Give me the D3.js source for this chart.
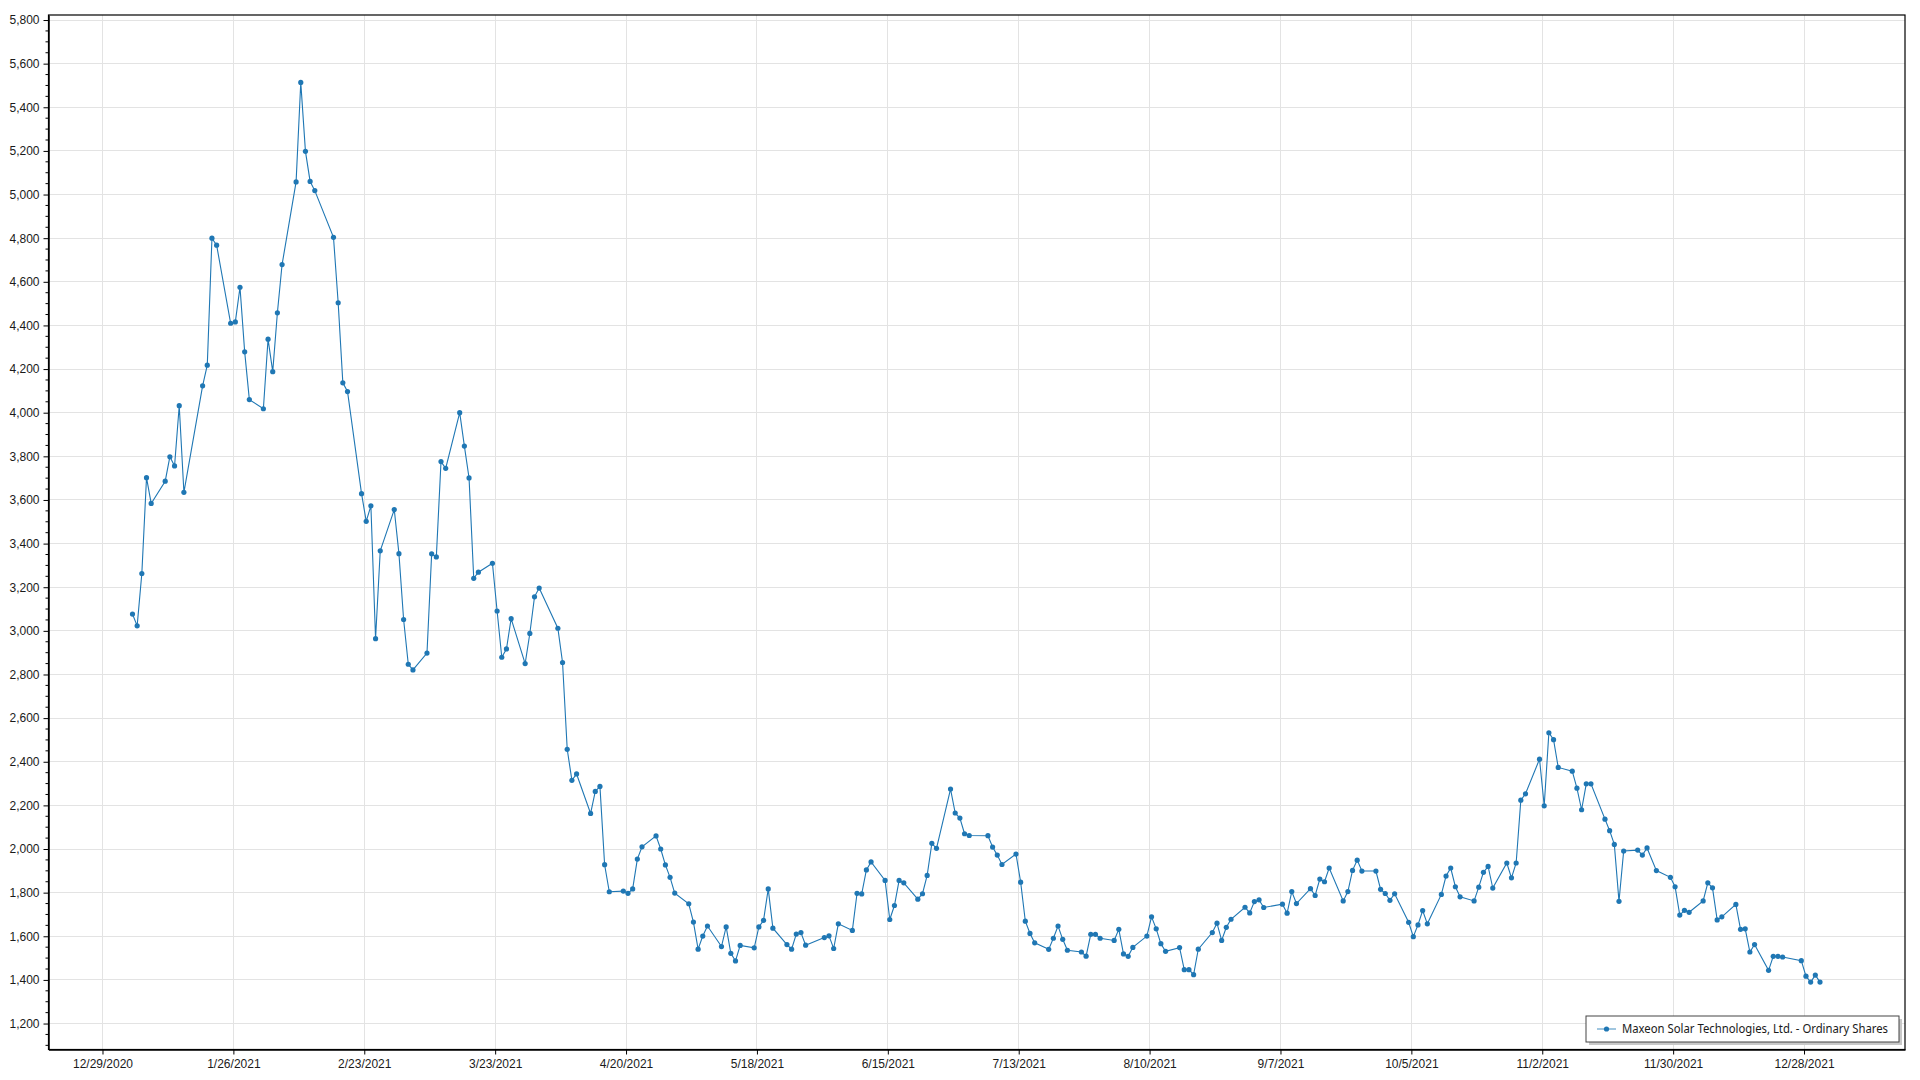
<!DOCTYPE html>
<html>
<head>
<meta charset="utf-8">
<script src="https://cdn.jsdelivr.net/npm/d3@7"></script>
<style>
  html, body { margin: 0; padding: 0; background: #fff; }
  svg { display: block; font-family: "Noto Sans", "Open Sans", sans-serif; }
</style>
</head>
<body>
<svg id="chart" width="1920" height="1080"></svg>
<script>
// ---- data ----
const seriesName = "Maxeon Solar Technologies, Ltd. - Ordinary Shares";
const dates = [
  "2021-01-04","2021-01-05","2021-01-06","2021-01-07","2021-01-08","2021-01-11","2021-01-12","2021-01-13","2021-01-14","2021-01-15",
  "2021-01-19","2021-01-20","2021-01-21","2021-01-22","2021-01-25","2021-01-26","2021-01-27","2021-01-28","2021-01-29",
  "2021-02-01","2021-02-02","2021-02-03","2021-02-04","2021-02-05","2021-02-08","2021-02-09","2021-02-10","2021-02-11","2021-02-12",
  "2021-02-16","2021-02-17","2021-02-18","2021-02-19","2021-02-22","2021-02-23","2021-02-24","2021-02-25","2021-02-26",
  "2021-03-01","2021-03-02","2021-03-03","2021-03-04","2021-03-05","2021-03-08","2021-03-09","2021-03-10","2021-03-11","2021-03-12",
  "2021-03-15","2021-03-16","2021-03-17","2021-03-18","2021-03-19","2021-03-22","2021-03-23","2021-03-24","2021-03-25","2021-03-26",
  "2021-03-29","2021-03-30","2021-03-31","2021-04-01",
  "2021-04-05","2021-04-06","2021-04-07","2021-04-08","2021-04-09","2021-04-12","2021-04-13","2021-04-14","2021-04-15","2021-04-16",
  "2021-04-19","2021-04-20","2021-04-21","2021-04-22","2021-04-23","2021-04-26","2021-04-27","2021-04-28","2021-04-29","2021-04-30",
  "2021-05-03","2021-05-04","2021-05-05","2021-05-06","2021-05-07","2021-05-10","2021-05-11","2021-05-12","2021-05-13","2021-05-14",
  "2021-05-17","2021-05-18","2021-05-19","2021-05-20","2021-05-21","2021-05-24","2021-05-25","2021-05-26","2021-05-27","2021-05-28",
  "2021-06-01","2021-06-02","2021-06-03","2021-06-04","2021-06-07","2021-06-08","2021-06-09","2021-06-10","2021-06-11",
  "2021-06-14","2021-06-15","2021-06-16","2021-06-17","2021-06-18","2021-06-21","2021-06-22","2021-06-23","2021-06-24","2021-06-25",
  "2021-06-28","2021-06-29","2021-06-30","2021-07-01","2021-07-02",
  "2021-07-06","2021-07-07","2021-07-08","2021-07-09","2021-07-12","2021-07-13","2021-07-14","2021-07-15","2021-07-16",
  "2021-07-19","2021-07-20","2021-07-21","2021-07-22","2021-07-23","2021-07-26","2021-07-27","2021-07-28","2021-07-29","2021-07-30",
  "2021-08-02","2021-08-03","2021-08-04","2021-08-05","2021-08-06","2021-08-09","2021-08-10","2021-08-11","2021-08-12","2021-08-13",
  "2021-08-16","2021-08-17","2021-08-18","2021-08-19","2021-08-20","2021-08-23","2021-08-24","2021-08-25","2021-08-26","2021-08-27",
  "2021-08-30","2021-08-31","2021-09-01","2021-09-02","2021-09-03",
  "2021-09-07","2021-09-08","2021-09-09","2021-09-10","2021-09-13","2021-09-14","2021-09-15","2021-09-16","2021-09-17",
  "2021-09-20","2021-09-21","2021-09-22","2021-09-23","2021-09-24","2021-09-27","2021-09-28","2021-09-29","2021-09-30","2021-10-01",
  "2021-10-04","2021-10-05","2021-10-06","2021-10-07","2021-10-08","2021-10-11","2021-10-12","2021-10-13","2021-10-14","2021-10-15",
  "2021-10-18","2021-10-19","2021-10-20","2021-10-21","2021-10-22","2021-10-25","2021-10-26","2021-10-27","2021-10-28","2021-10-29",
  "2021-11-01","2021-11-02","2021-11-03","2021-11-04","2021-11-05","2021-11-08","2021-11-09","2021-11-10","2021-11-11","2021-11-12",
  "2021-11-15","2021-11-16","2021-11-17","2021-11-18","2021-11-19","2021-11-22","2021-11-23","2021-11-24","2021-11-26",
  "2021-11-29","2021-11-30","2021-12-01","2021-12-02","2021-12-03","2021-12-06","2021-12-07","2021-12-08","2021-12-09","2021-12-10",
  "2021-12-13","2021-12-14","2021-12-15","2021-12-16","2021-12-17","2021-12-20","2021-12-21","2021-12-22","2021-12-23",
  "2021-12-27","2021-12-28","2021-12-29","2021-12-30","2021-12-31"
];
const prices = [
  3077,3023,3263,3702,3584,3686,3798,3756,4032,3635,
  4123,4218,4800,4768,4410,4416,4575,4279,4060,
  4018,4337,4188,4458,4679,5058,5514,5198,5060,5018,
  4804,4504,4137,4097,3629,3502,3573,2964,3367,
  3556,3354,3052,2847,2821,2898,3353,3339,3776,3745,
  4000,3847,3701,3241,3269,3310,3091,2879,2917,3056,
  2850,2988,3156,3196,
  3012,2855,2457,2315,2344,2163,2264,2287,1928,1804,
  1807,1797,1817,1954,2010,2060,2000,1927,1870,1798,
  1749,1665,1541,1601,1647,1553,1643,1522,1487,1558,
  1547,1643,1673,1817,1637,1562,1541,1610,1617,1559,
  1594,1602,1544,1657,1627,1797,1794,1904,1941,
  1856,1677,1741,1856,1845,1770,1795,1879,2026,2003,
  2275,2165,2142,2070,2062,
  2061,2009,1972,1929,1977,1848,1669,1613,1570,
  1540,1591,1647,1586,1536,1528,1509,1609,1609,1591,
  1581,1632,1519,1508,1549,1601,1689,1634,1566,1531,
  1548,1447,1447,1424,1541,1617,1660,1581,1641,1678,
  1733,1707,1759,1767,1732,
  1747,1706,1805,1750,1818,1787,1862,1850,1913,
  1762,1805,1902,1949,1899,1899,1815,1796,1765,1795,
  1664,1598,1652,1718,1657,1792,1876,1913,1827,1781,
  1762,1825,1893,1920,1821,1936,1868,1936,2224,2253,
  2412,2198,2533,2501,2374,2357,2279,2180,2299,2299,
  2137,2084,2021,1760,1991,1995,1972,2005,1901,
  1870,1827,1697,1719,1710,1762,1845,1822,1675,1689,
  1746,1632,1634,1528,1562,1444,1508,1508,1505,
  1488,1417,1390,1422,1390
];
const xTickLabels = ["12/29/2020","1/26/2021","2/23/2021","3/23/2021","4/20/2021","5/18/2021","6/15/2021",
  "7/13/2021","8/10/2021","9/7/2021","10/5/2021","11/2/2021","11/30/2021","12/28/2021"];
const yTickValues = [1200,1400,1600,1800,2000,2200,2400,2600,2800,3000,3200,3400,3600,3800,4000,4200,4400,4600,4800,5000,5200,5400,5600,5800];

// ---- layout ----
const plot = { left: 48.5, right: 1905, top: 15, bottom: 1049.5 };
const color = "#1f77b4";

// data points are stamped at 10:00 (trading session) of each date
const parseISO = s => { const [y,m,d] = s.split("-").map(Number); return new Date(Date.UTC(y, m-1, d, 10)); };
const parseMDY = s => { const [m,d,y] = s.split("/").map(Number); return new Date(Date.UTC(y, m-1, d)); };
const data = dates.map((d, i) => ({ date: parseISO(d), value: prices[i] }));
const xTicks = xTickLabels.map(parseMDY);

const DAY = 86400000;
const x = d3.scaleUtc()
  .domain([new Date(xTicks[0].getTime() - 11.55 * DAY), new Date(xTicks[0].getTime() + 385.6 * DAY)])
  .range([plot.left, plot.right]);
const y = d3.scaleLinear().domain([1081, 5823]).range([plot.bottom, plot.top]);

const svg = d3.select("#chart");

// gridlines
const grid = svg.append("g").attr("stroke", "#e3e3e3").attr("stroke-width", 1).attr("shape-rendering", "crispEdges");
grid.selectAll("line.h").data(yTickValues).join("line")
  .attr("x1", plot.left).attr("x2", plot.right)
  .attr("y1", d => y(d)).attr("y2", d => y(d));
grid.selectAll("line.v").data(xTicks).join("line")
  .attr("y1", plot.top).attr("y2", plot.bottom)
  .attr("x1", d => x(d)).attr("x2", d => x(d));

// frame
svg.append("rect")
  .attr("x", plot.left).attr("y", plot.top)
  .attr("width", plot.right - plot.left).attr("height", plot.bottom - plot.top)
  .attr("fill", "none").attr("stroke", "#000").attr("stroke-width", 1.2);

// y axis
const fmt = d3.format(",");
const yAxis = d3.axisLeft(y).tickValues(yTickValues).tickFormat(fmt).tickSize(5).tickSizeOuter(0).tickPadding(4);
const gy = svg.append("g").attr("transform", `translate(${plot.left},0)`).call(yAxis);
gy.select(".domain").attr("stroke", "#000").attr("stroke-width", 1.5);
gy.selectAll(".tick line").attr("stroke", "#000");
gy.selectAll("text").attr("font-size", 12).attr("fill", "#1a1a1a");
// minor ticks
const minor = d3.range(1100, 5801, 50).filter(v => v % 200 !== 0);
svg.append("g").attr("stroke", "#000").selectAll("line").data(minor).join("line")
  .attr("x1", plot.left - 3).attr("x2", plot.left)
  .attr("y1", d => y(d)).attr("y2", d => y(d));

// x axis
const xAxis = d3.axisBottom(x).tickValues(xTicks).tickFormat((d, i) => xTickLabels[i]).tickSize(5).tickSizeOuter(0).tickPadding(5);
const gx = svg.append("g").attr("transform", `translate(0,${plot.bottom})`).call(xAxis);
gx.select(".domain").attr("stroke", "#000").attr("stroke-width", 1.5);
gx.selectAll(".tick line").attr("stroke", "#000");
gx.selectAll("text").attr("font-size", 12).attr("fill", "#1a1a1a");

// line + markers
const line = d3.line().x(d => x(d.date)).y(d => y(d.value));
svg.append("path").datum(data)
  .attr("fill", "none").attr("stroke", color).attr("stroke-width", 1.1)
  .attr("d", line);
svg.append("g").selectAll("circle").data(data).join("circle")
  .attr("cx", d => x(d.date)).attr("cy", d => y(d.value))
  .attr("r", 2.6).attr("fill", color);

// legend
const lg = { x: 1586, y: 1016, w: 313, h: 26 };
svg.append("rect").attr("x", lg.x + 3).attr("y", lg.y + 3).attr("width", lg.w).attr("height", lg.h).attr("fill", "#c8c8c8");
svg.append("rect").attr("x", lg.x).attr("y", lg.y).attr("width", lg.w).attr("height", lg.h)
  .attr("fill", "#fff").attr("stroke", "#444").attr("stroke-width", 1);
svg.append("line").attr("x1", lg.x + 11).attr("x2", lg.x + 30)
  .attr("y1", lg.y + lg.h / 2).attr("y2", lg.y + lg.h / 2)
  .attr("stroke", color).attr("stroke-width", 1.2).attr("opacity", 0.7);
svg.append("circle").attr("cx", lg.x + 20.5).attr("cy", lg.y + lg.h / 2).attr("r", 2.6).attr("fill", color);
svg.append("text").attr("x", lg.x + 36).attr("y", lg.y + lg.h / 2).attr("dy", "0.35em")
  .attr("font-size", 12).attr("fill", "#1a1a1a")
  .attr("textLength", 266).attr("lengthAdjust", "spacingAndGlyphs")
  .text(seriesName);
</script>
</body>
</html>
